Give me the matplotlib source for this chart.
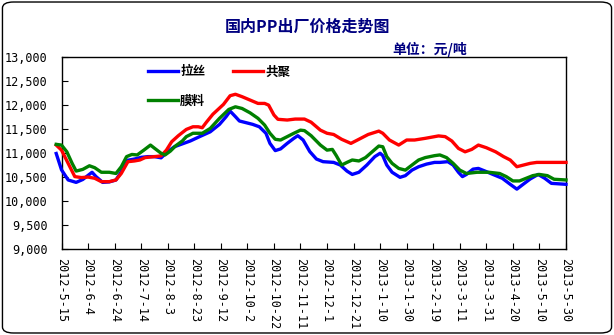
import matplotlib
matplotlib.use('Agg')
import matplotlib.pyplot as plt
from matplotlib.patches import FancyBboxPatch
import pandas as pd

plt.rcParams['font.family'] = ['Noto Sans CJK SC', 'DejaVu Sans']

# -----------------------------------------------------
# Data (days since 2012-5-15, price in yuan/ton)
# -----------------------------------------------------

start_date = "2012-05-15"
tick_days = list(range(0, 381, 20))

lasi_days = [-4, 0, 5, 11, 16, 23, 26, 31, 36, 41, 45, 50, 55, 60, 65, 70, 75,
             80, 85, 89, 97, 104, 112, 119, 124, 127, 131, 134, 139, 144, 149,
             154, 157, 161, 165, 170, 175, 178, 182, 187, 192, 197, 205, 210,
             215, 219, 224, 230, 236, 240, 242, 245, 249, 255, 259, 264, 269,
             275, 281, 285, 291, 295, 299, 302, 305, 310, 314, 319, 325, 332,
             338, 343, 347, 353, 359, 364, 369, 380]
lasi = [10990, 10650, 10440, 10390, 10450, 10600, 10510, 10390, 10400, 10440,
        10610, 10850, 10875, 10910, 10925, 10925, 10900, 11030, 11130, 11170,
        11250, 11340, 11440, 11595, 11755, 11870, 11755, 11665, 11630, 11595,
        11545, 11410, 11200, 11050, 11085, 11200, 11305, 11360, 11270, 11030,
        10875, 10820, 10805, 10750, 10625, 10555, 10600, 10750, 10925, 10995,
        10945, 10750, 10600, 10495, 10530, 10645, 10715, 10770, 10805, 10805,
        10820, 10750, 10600, 10510, 10555, 10665, 10680, 10625, 10555, 10475,
        10350, 10250, 10335, 10460, 10555, 10475, 10370, 10350]

gongju_days = [-4, 0, 5, 10, 15, 20, 25, 30, 36, 41, 45, 50, 55, 59, 63, 70,
               75, 79, 83, 88, 94, 99, 103, 106, 109, 114, 122, 127, 131, 136,
               142, 148, 153, 156, 160, 163, 170, 176, 183, 188, 195, 200, 205,
               211, 218, 224, 231, 239, 242, 247, 254, 260, 266, 274, 281, 284,
               289, 294, 299, 304, 309, 314, 320, 327, 333, 338, 343, 348, 353,
               358, 380]
gongju = [11165, 11060, 10785, 10510, 10490, 10500, 10475, 10405, 10405, 10440,
          10575, 10820, 10835, 10855, 10905, 10925, 10940, 11060, 11235, 11360,
          11490, 11545, 11545, 11525, 11635, 11805, 12010, 12190, 12220, 12170,
          12100, 12030, 12030, 11995, 11790, 11700, 11685, 11705, 11705, 11640,
          11475, 11410, 11385, 11285, 11200, 11285, 11385, 11455, 11410, 11270,
          11165, 11270, 11270, 11305, 11340, 11355, 11340, 11250, 11095, 11025,
          11075, 11165, 11110, 11025, 10925, 10855, 10715, 10750, 10785, 10805,
          10805]

moliao_days = [-4, 0, 4, 8, 11, 16, 21, 25, 30, 36, 41, 45, 49, 53, 57, 62, 67,
               70, 75, 78, 82, 86, 91, 94, 99, 106, 112, 119, 126, 131, 136,
               142, 148, 153, 157, 161, 165, 170, 175, 180, 183, 188, 195, 200,
               204, 207, 211, 215, 219, 224, 229, 234, 239, 242, 245, 249, 254,
               259, 264, 269, 274, 281, 285, 290, 295, 300, 305, 313, 322, 330,
               335, 340, 345, 350, 355, 360, 366, 371, 380]
moliao = [11180, 11165, 11025, 10785, 10625, 10660, 10735, 10695, 10600, 10600,
          10575, 10715, 10925, 10970, 10960, 11060, 11165, 11100, 10995, 10960,
          11040, 11150, 11250, 11340, 11410, 11410, 11510, 11720, 11905, 11960,
          11925, 11835, 11720, 11580, 11410, 11285, 11270, 11340, 11410, 11475,
          11465, 11360, 11165, 11060, 11075, 10945, 10750, 10805, 10855, 10835,
          10905, 11025, 11145, 11130, 10925, 10785, 10680, 10645, 10750, 10855,
          10905, 10945, 10960, 10905, 10785, 10645, 10575, 10600, 10600, 10575,
          10510, 10420, 10420, 10475, 10530, 10555, 10530, 10455, 10440]

tick_dates = pd.to_datetime(start_date) + pd.to_timedelta(tick_days, unit="D")
tick_labels = [f"{d.year}-{d.month}-{d.day}" for d in tick_dates]

# -----------------------------------------------------
# Figure
# -----------------------------------------------------

fig = plt.figure(figsize=(6.14, 3.35), dpi=100)

border = FancyBboxPatch(
    (0.004, 0.006), 0.992, 0.988,
    boxstyle="round,pad=0,rounding_size=0.018",
    transform=fig.transFigure,
    facecolor="none",
    edgecolor="black",
    linewidth=1.0
)
fig.patches.append(border)

ax = fig.add_axes([0.1002, 0.2558, 0.8216, 0.5749])

lw = 2.4
l1, = ax.plot(lasi_days, lasi, color="#0000FF", linewidth=lw,
              label="拉丝", clip_on=False, zorder=3)
l3, = ax.plot(gongju_days, gongju, color="#FF0000", linewidth=lw,
              label="共聚", clip_on=False, zorder=3)
l2, = ax.plot(moliao_days, moliao, color="#008000", linewidth=lw,
              label="膜料", clip_on=False, zorder=3)

ax.set_xlim(0, 380)
ax.set_ylim(9000, 13000)

ax.set_xticks(tick_days)
ax.set_xticklabels(tick_labels, rotation=-90, family="DejaVu Sans Mono",
                   fontsize=8.5)
ax.set_yticks(range(9000, 13001, 500))
ax.set_yticklabels([f"{v:,}" for v in range(9000, 13001, 500)],
                   family="DejaVu Sans Mono", fontsize=8.5)

ax.tick_params(axis="both", direction="in", length=4, width=0.8,
               colors="black")
ax.tick_params(axis="x", pad=6)
ax.tick_params(axis="y", pad=10)

for s in ax.spines.values():
    s.set_linewidth(1.0)
    s.set_color("black")

leg = ax.legend(
    handles=[l1, l2, l3],
    ncol=2,
    loc="upper left",
    bbox_to_anchor=(0.171, 0.955),
    frameon=False,
    borderpad=0,
    borderaxespad=0,
    handlelength=2.4,
    handletextpad=0.2,
    columnspacing=2.2,
    labelspacing=1.3,
    prop={"size": 9, "weight": "bold"}
)

# -----------------------------------------------------
# Titles
# -----------------------------------------------------

fig.text(0.5, 0.919, "国内PP出厂价格走势图", ha="center", va="center",
         fontsize=11.5, fontweight="bold", color="#000080")
fig.text(0.70, 0.851, "单位：元/吨", ha="center", va="center",
         fontsize=10, fontweight="bold", color="#000080")

fig.savefig("out.png", dpi=100)
